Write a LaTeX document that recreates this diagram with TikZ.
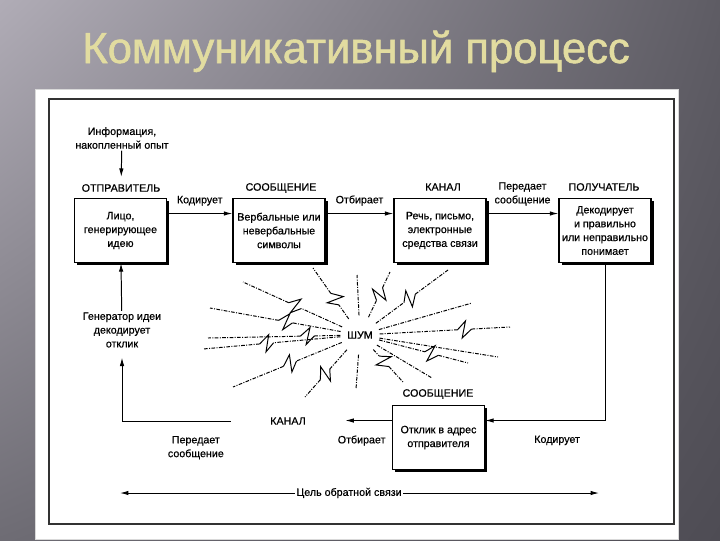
\documentclass[tikz,border=0pt]{standalone}
\usepackage{fontspec}
\setmainfont{Liberation Sans}
\newfontfamily\diagfont[FakeBold=0.5]{Liberation Sans}
\newfontfamily\titlefont[FakeBold=1.2]{Liberation Sans}
\usetikzlibrary{calc,arrows.meta,shadows,shadings}

\definecolor{bgTL}{HTML}{B0ACB6}
\definecolor{bgTR}{HTML}{5E5C64}
\definecolor{bgBL}{HTML}{6E6C74}
\definecolor{bgBR}{HTML}{4E4C54}
\definecolor{titleC}{HTML}{E2DCA0}

\begin{document}
\begin{tikzpicture}[x=0.025cm,y=-0.025cm,
    font=\diagfont\fontsize{7.6}{9.8}\selectfont,
    box/.style={draw=black,line width=1pt,fill=white,align=center,inner sep=1pt,
      minimum width=2.3cm,minimum height=1.6cm,
      drop shadow={shadow xshift=2pt,shadow yshift=-2pt,fill=black,opacity=1}},
    head/.style={inner sep=1pt},
    txt/.style={align=center,inner sep=1pt},
    arr/.style={line width=0.7pt,-{Latex[length=6pt,width=3.2pt]}},
    noiseray/.style={line width=0.7pt,dash pattern=on 2.6pt off 1pt on 0.7pt off 1pt},
    bolt/.style={line width=0.7pt}]
   \useasboundingbox (0,0) rectangle (720,540);
   % slide
   \shade[upper left=bgTL,upper right=bgTR,lower left=bgBL,lower right=bgBR] (0,0) rectangle (720,540);
   \node[anchor=base,font=\titlefont\fontsize{31}{31}\selectfont,text=titleC] (title) at (356,63) {Коммуникативный процесс};
   \draw[black!15,fill=white] (35,89) rectangle (678,539);
   \draw[line width=0.8pt,black!80] (49,99) rectangle (674,524);

   % top row
   \node[txt] (info) at (122,138) {Информация,\\накопленный опыт};
   \node[head] (senderhd) at (121,188) {ОТПРАВИТЕЛЬ};
   \node[head] (messagehd) at (281,188) {СООБЩЕНИЕ};
   \node[head] (channelhd) at (443,187) {КАНАЛ};
   \node[head] (receiverhd) at (604,187) {ПОЛУЧАТЕЛЬ};
   \node[box] (sender) at (120.5,230.5) {Лицо,\\генерирующее\\идею};
   \node[box] (message) at (279,230.5) {Вербальные или\\невербальные\\символы};
   \node[box] (channel) at (440,230.5) {Речь, письмо,\\электронные\\средства связи};
   \node[box] (receiver) at (605,230.5) {Декодирует\\и правильно\\или неправильно\\понимает};
   \draw[arr,shorten >=4pt] (info) -- (senderhd);
   \draw[arr] (sender.20) -- (sender.20 -| message.west) node[midway,above=2pt] (encodelbl) {Кодирует};
   \draw[arr] (message.20) -- (message.20 -| channel.west) node[midway,above=2pt] (selectlbl) {Отбирает};
   \draw[arr] (channel.20) -- (channel.20 -| receiver.west) node[midway,above=2pt,align=center] (sendlbl) {Передает\\сообщение};

   % feedback
   \node[head] (responsehd) at (438,394) {СООБЩЕНИЕ};
   \node[box] (response) at (438.5,437.5) {Отклик в адрес\\отправителя};
   \node[head,inner xsep=28pt] (channelback) at (288,421) {КАНАЛ};
   \node[txt] (decoder) at (122,330) {Генератор идеи\\декодирует\\отклик};
   \draw[arr] (receiver.south) |- (response.20) node[pos=0.7,below=7pt] (encodeback) {Кодирует};
   \draw[arr] (response.160) -- (response.160 -| channelback.east) node[pos=0.65,below=7pt] (selectback) {Отбирает};
   \draw[arr,shorten >=6pt] (channelback.west) -| (decoder.south) node[pos=0.16,below=7pt,align=center] (sendback) {Передает\\сообщение};
   \draw[arr] (decoder) -- (sender);

   % goal
   \node[txt] (goal) at (349,493) {Цель обратной связи};
   \coordinate (goalL) at (120,493);
   \coordinate (goalR) at (599,493);
   \draw[arr] (goal.west) -- (goalL);
   \draw[arr] (goal.east) -- (goalR);

   % noise
   \node[txt] (noise) at (360,335) {ШУМ};
   \foreach \ex/\ey/\zt in {313/268/0.45, 243/282/0.5, 210/308/0.45, 208/338/0.3,
                            203/349/0.55, 233/387/0.5, 305/397/0.55, 356/389/0,
                            403/382/0.45, 432/378/0, 468/363/0.6, 498/357/0,
                            510/327/0.65, 472/303/0, 448/270/0.5, 390/272/0.55, 357/275/0} {
      \coordinate (tip) at (\ex,\ey);
      \ifdim \zt pt>0pt
         \coordinate (z0) at ($(noise)!\zt!(tip)$);
         \coordinate (z1) at ($(z0)!6pt!(tip)!6pt!90:(tip)$);
         \coordinate (z2) at ($(z0)!3pt!(tip)!6pt!-90:(tip)$);
         \coordinate (z3) at ($(z0)!10pt!(tip)$);
         \draw[noiseray] ($(noise)!14pt!(tip)$) -- (z0);
         \draw[bolt] (z0) -- (z1) -- (z2) -- (z3);
         \draw[noiseray] (z3) -- (tip);
      \else
         \draw[noiseray] ($(noise)!14pt!(tip)$) -- (tip);
      \fi
   }
\end{tikzpicture}
\end{document}
